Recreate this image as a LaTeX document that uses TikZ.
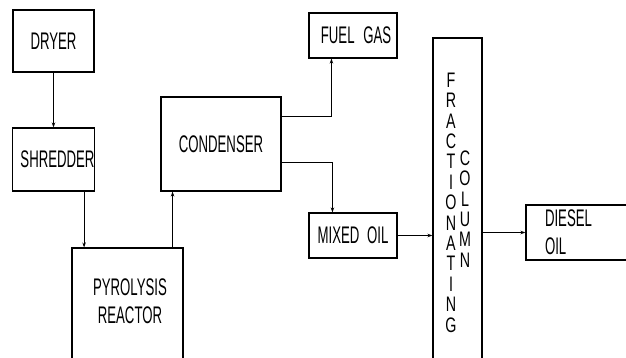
\documentclass[tikz,border=0pt]{standalone}
\usepackage{fontspec}
\newfontfamily\cadfont{Liberation Sans}[FakeStretch=0.55]
\newfontfamily\cadcol{Liberation Sans}[FakeStretch=0.68]
\usetikzlibrary{arrows.meta}
\begin{document}
\begin{tikzpicture}[x=1pt,y=-1pt,
  box/.style={draw, line width=1.1pt, inner sep=0pt, font=\cadfont\fontsize{24}{28}\selectfont, align=center},
  lbl/.style={inner sep=0pt, font=\cadfont\fontsize{24}{28}\selectfont, align=center},
  collbl/.style={inner sep=0pt, font=\cadcol\fontsize{21}{20.4}\selectfont, align=center},
  arr/.style={line width=1pt, -{Stealth[length=5pt,width=3.5pt]}}]
\useasboundingbox (0,0) rectangle (626,358);
\clip (0,0) rectangle (626,358);
\node[box, minimum width=81pt, minimum height=62pt] (dryer) at (53.5,41) {DRYER};
\node[box, minimum width=81pt, minimum height=63pt] (shredder) at (53.5,159.5) {\hspace*{8pt}SHREDDER};
\node[box, minimum width=111pt, minimum height=132pt] (pyro) at (127.5,314) {};
\node[lbl] (pyrotext) at (130,301) {PYROLYSIS\\REACTOR};
\node[box, minimum width=120pt, minimum height=94pt] (condenser) at (221,144) {CONDENSER};
\node[box, minimum width=88pt, minimum height=45pt] (fuel) at (353,35.5) {\hspace*{6pt}FUEL\hspace{5pt} GAS};
\node[box, minimum width=88pt, minimum height=45pt] (mixed) at (353,235.5) {MIXED\hspace{4pt} OIL};
\node[box, minimum width=49pt, minimum height=342pt] (column) at (457.5,209) {};
\node[collbl] (fract) at (451,202.5) {F\\R\\A\\C\\T\\I\\O\\N\\A\\T\\I\\N\\G};
\node[collbl] (col) at (465,209) {C\\O\\L\\U\\M\\N};
\node[box, minimum width=114pt, minimum height=55pt, inner xsep=19pt, text width=76pt, align=left] (diesel) at (583,232.5) {DIESEL\\OIL};
\draw[arr] (dryer.south) -- (shredder.north);
\draw[arr] ([xshift=-11pt]shredder.south east) -- ([xshift=-11pt]shredder.south east |- pyro.north);
\draw[arr] ([xshift=-11pt]pyro.north east) -- ([xshift=-11pt]pyro.north east |- condenser.south);
\draw[arr] ([yshift=-20pt]condenser.north east) -| ([xshift=23pt]fuel.south west);
\draw[arr] ([yshift=29pt]condenser.south east) -| ([xshift=24pt]mixed.north west);
\draw[arr] (mixed.east) -- (mixed.east -| column.west);
\draw[arr] (column.east |- diesel.west) -- (diesel.west);
\end{tikzpicture}
\end{document}
